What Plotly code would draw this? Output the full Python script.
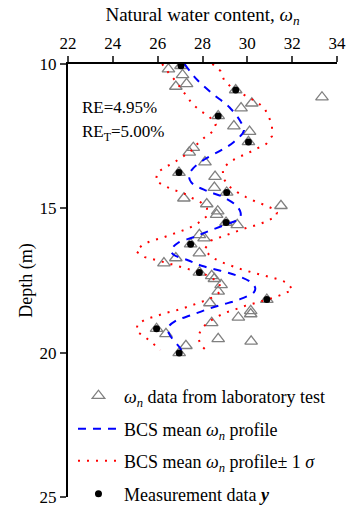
import plotly.graph_objects as go

# ---- data ----
lab_wn = [26.48, 27.04, 27.11, 26.81, 27.29, 29.48, 33.33, 29.72, 30.20, 28.70, 29.40, 30.10,
          30.05, 27.59, 27.41, 28.11, 26.95, 28.56, 28.53, 29.08, 27.17, 28.19, 31.50, 28.68,
          28.63, 29.05, 29.55, 27.86, 28.07, 27.47, 27.86, 26.81, 26.28, 27.86, 28.41, 28.53, 28.83,
          28.70, 28.33, 30.87, 30.15, 30.15, 29.60, 28.41, 25.95, 26.37, 28.70, 30.17, 27.26, 26.96]
lab_depth = [10.18, 10.06, 10.38, 10.78, 10.69, 10.90, 11.15, 11.53, 11.36, 11.80, 12.15, 12.34,
             12.70, 12.90, 13.06, 13.40, 13.76, 13.90, 14.28, 14.45, 14.65, 14.85, 14.91, 15.10,
             15.22, 15.49, 15.57, 15.92, 16.03, 16.24, 16.55, 16.72, 16.90, 17.22, 17.34, 17.44, 17.65,
             17.88, 18.28, 18.16, 18.55, 18.66, 18.78, 18.97, 19.17, 19.35, 19.52, 19.61, 19.76, 20.01]

meas_wn = [27.04, 29.48, 28.70, 30.05, 26.95, 29.08, 29.05, 27.47, 27.86, 30.87, 25.95, 26.96]
meas_depth = [10.06, 10.90, 11.80, 12.70, 13.76, 14.45, 15.49, 16.24, 17.22, 18.16, 19.17, 20.01]

mean_depth = [10.0, 10.5, 11.0, 11.5, 12.0, 12.3, 12.7, 13.0, 13.3, 13.6, 13.85, 14.1, 14.4, 14.6,
              14.9, 15.15, 15.35, 15.57, 15.78, 16.0, 16.2, 16.45, 16.6, 16.8, 17.0, 17.16, 17.32,
              17.53, 17.75, 17.9, 18.17, 18.34, 18.5, 18.7, 18.9, 19.15, 19.4, 19.84, 20.0]
mean_wn = [27.2, 27.7, 28.4, 29.2, 29.7, 29.85, 29.4, 28.8, 28.1, 27.6, 27.4, 27.5, 28.2, 28.9,
           29.5, 29.7, 29.65, 29.0, 28.3, 27.6, 26.9, 26.6, 26.7, 27.35, 28.0, 28.8, 29.5,
           30.1, 30.35, 30.3, 29.6, 28.86, 28.2, 27.5, 26.8, 26.45, 26.55, 27.0, 27.1]

upper_depth = [10.0, 10.24, 10.55, 10.8, 11.0, 11.15, 11.33, 11.53, 11.84, 12.17, 12.5, 12.77, 12.94,
               13.09, 13.23, 13.38, 13.63, 13.96, 14.24, 14.44, 14.61, 14.76, 14.88, 15.02, 15.15,
               15.28, 15.45, 15.57, 15.66, 15.78, 15.88, 16.0, 16.12, 16.43, 16.69, 16.86, 16.98,
               17.09, 17.19, 17.28, 17.36, 17.45, 17.57, 17.82, 17.97, 18.09, 18.28, 18.37, 18.49,
               18.6, 18.74, 18.92, 19.15, 19.46, 19.75, 19.98]
upper_wn = [28.44, 28.8, 28.96, 29.27, 29.7, 30.05, 30.45, 30.76, 30.97, 31.1, 31.1, 30.84, 30.42,
            30.02, 29.6, 29.23, 28.9, 28.93, 29.18, 29.55, 29.94, 30.35, 30.76, 31.16, 31.32,
            31.28, 30.87, 30.45, 30.02, 29.6, 29.18, 28.75, 28.37, 28.08, 28.4, 28.83, 29.23,
            29.64, 30.08, 30.49, 30.91, 31.34, 31.76, 32.03, 31.6, 31.19, 30.35, 29.93, 29.5,
            29.08, 28.68, 28.3, 27.96, 27.8, 27.92, 28.26]

lower_depth = [10.0, 10.32, 10.59, 10.88, 11.15, 11.4, 11.63, 11.81, 12.09, 12.34, 12.54, 12.77,
               13.03, 13.23, 13.41, 13.59, 13.76, 14.05, 14.22, 14.36, 14.47, 14.63, 14.79, 15.0,
               15.28, 15.51, 15.69, 15.8, 15.91, 16.03, 16.12, 16.26, 16.49, 16.69, 16.78, 16.87,
               16.95, 17.05, 17.15, 17.24, 17.41, 17.59, 17.88, 18.09, 18.22, 18.34, 18.45, 18.55,
               18.63, 18.74, 18.83, 19.0, 19.26, 19.46, 19.66, 19.92]
lower_wn = [26.2, 26.5, 26.8, 27.07, 27.3, 27.56, 27.92, 28.29, 28.59, 28.46, 28.1, 27.77,
            27.47, 27.1, 26.73, 26.3, 25.98, 25.92, 26.3, 26.7, 27.14, 27.5, 27.92, 28.2,
            28.19, 27.8, 27.4, 27.0, 26.6, 26.17, 25.73, 25.33, 25.03, 25.43, 25.88, 26.3,
            26.7, 27.14, 27.59, 28.0, 28.41, 28.75, 28.81, 28.44, 28.03, 27.62, 27.19, 26.77,
            26.32, 25.92, 25.5, 25.1, 25.06, 25.43, 25.77, 26.1]

x_ticks = [22, 24, 26, 28, 30, 32, 34]
y_ticks = [10, 15, 20, 25]

FONT = "Liberation Serif, Times New Roman, serif"

fig = go.Figure()

fig.add_trace(go.Scatter(
    x=lab_wn, y=lab_depth, mode="markers",
    marker=dict(symbol="triangle-up-open", size=11, color="#808080", line=dict(width=1.3, color="#808080")),
    name="<i>ω<sub>n</sub></i> data from laboratory test", legend="legend"))

fig.add_trace(go.Scatter(
    x=mean_wn, y=mean_depth, mode="lines", line=dict(color="#0000ff", width=2, dash="8px,7px", shape="spline"),
    name="BCS mean <i>ω<sub>n</sub></i> profile", legend="legend2"))

fig.add_trace(go.Scatter(
    x=upper_wn + [None] + lower_wn, y=upper_depth + [None] + lower_depth, mode="lines",
    line=dict(color="#ff0000", width=2, dash="2px,7px"), connectgaps=False,
    name="BCS mean <i>ω<sub>n</sub></i> profile± 1 <i>σ</i>", legend="legend3"))

fig.add_trace(go.Scatter(
    x=meas_wn, y=meas_depth, mode="markers",
    marker=dict(symbol="circle", size=7, color="black"),
    name="Measurement data <b><i>y</i></b>", legend="legend4"))

fig.add_annotation(x=22.55, y=11.49, text="RE=4.95%", showarrow=False, xanchor="left",
                   font=dict(size=17, color="black", family=FONT))
fig.add_annotation(x=22.55, y=12.39, text="RE<sub>T</sub>=5.00%", showarrow=False, xanchor="left",
                   font=dict(size=17, color="black", family=FONT))

PLOT_TOP, PLOT_BOT = 64, 497
def ypaper(py):
    return (PLOT_BOT - py) / (PLOT_BOT - PLOT_TOP)

leg_common = dict(x=0.0185, xanchor="left", yanchor="middle", bgcolor="rgba(0,0,0,0)",
                  itemwidth=41, font=dict(size=18, family=FONT, color="black"))

fig.update_layout(
    width=347, height=507,
    margin=dict(l=68, r=10, t=64, b=10, autoexpand=False),
    paper_bgcolor="white", plot_bgcolor="white",
    font=dict(family=FONT, size=17, color="black"),
    showlegend=True,
    legend=dict(y=ypaper(396), **leg_common),
    legend2=dict(y=ypaper(429), **leg_common),
    legend3=dict(y=ypaper(461), **leg_common),
    legend4=dict(y=ypaper(494), **leg_common),
    xaxis=dict(side="top", range=[22, 34], tickvals=x_ticks, ticks="outside", ticklen=6, tickwidth=2,
               showline=True, linewidth=2, linecolor="black", showgrid=False, zeroline=False,
               automargin=False,
               title=dict(text="Natural water content, <i>ω<sub>n</sub></i>", font=dict(size=19), standoff=8),
               tickfont=dict(size=17)),
    yaxis=dict(range=[25, 10], tickvals=y_ticks, ticks="outside", ticklen=6, tickwidth=2,
               showline=True, linewidth=2, linecolor="black", showgrid=False, zeroline=False,
               automargin=False,
               title=dict(text="Depth (m)", font=dict(size=18), standoff=2),
               tickfont=dict(size=17)),
)

fig.write_html("out.html", config={"displayModeBar": False},
               post_script="document.body.style.margin='0';document.body.style.overflow='hidden';")
